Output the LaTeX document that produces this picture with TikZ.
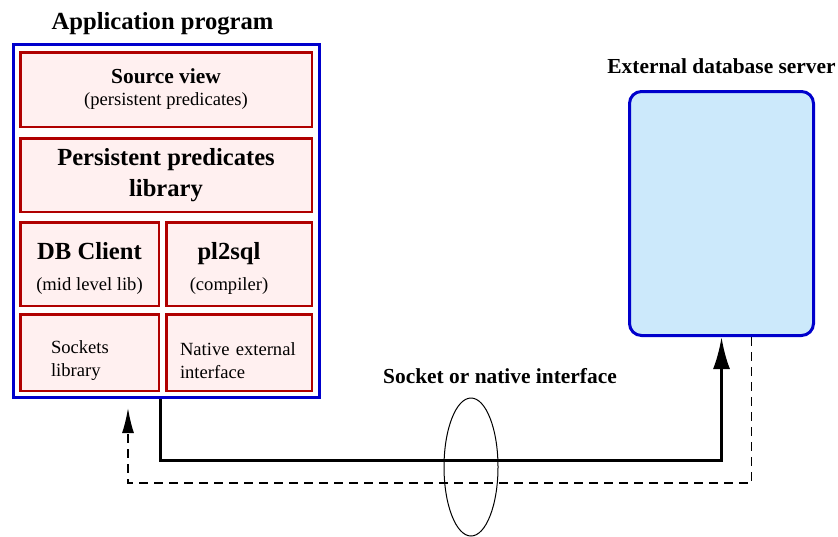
\documentclass[tikz,border=0pt]{standalone}
\usepackage{fontspec}
\setmainfont{Liberation Serif}
\usetikzlibrary{shapes.geometric}
\usetikzlibrary{arrows.meta}
\usetikzlibrary{positioning}

\definecolor{layerred}{RGB}{176,0,0}
\definecolor{layerfill}{RGB}{255,240,240}
\definecolor{hostblue}{RGB}{0,0,204}
\definecolor{serverfill}{RGB}{204,233,251}

\newcommand{\bigbf}{\fontsize{12.3}{14}\selectfont\bfseries}
\newcommand{\midbf}{\fontsize{10.7}{12.5}\selectfont\bfseries}
\newcommand{\smallrm}{\fontsize{9.3}{11}\selectfont}

\begin{document}
\begin{tikzpicture}[x=0.5pt,y=-0.5pt,
  layer/.style={draw=layerred,fill=layerfill,line width=1.25pt,inner sep=0pt,align=center,font=\smallrm},
  host/.style={draw=hostblue,line width=1.5pt,inner sep=0pt},
  link/.style={line width=1.5pt,-{Latex[length=16pt,width=8.5pt]}},
  back/.style={line width=0.75pt,dash pattern=on 4.5pt off 3pt,shorten >=4.5pt,-{Latex[length=12.5pt,width=6pt]}}]
\useasboundingbox (0,0) rectangle (838,536);
\node[host, minimum width=153pt, minimum height=176.5pt] (app) at (166.5,221) {};
\node[layer, minimum width=145.75pt, minimum height=37.25pt] (src) at (166,89.5) {{\midbf Source view}\\(persistent predicates)};
\node[layer, minimum width=145.75pt, minimum height=36.75pt] (lib) [below=4.5pt of src] {{\bigbf Persistent predicates}\\[3pt]{\bigbf library}};
\node[layer, minimum width=69.25pt, minimum height=41.75pt] (dbc) [below right=4pt and 0pt of lib.south west] {\rule{0pt}{13.4pt}{\bigbf DB Client}\\[4.5pt](mid level lib)};
\node[layer, minimum width=72.75pt, minimum height=41.75pt] (pl2sql) [right=2.5pt of dbc] {\rule{0pt}{13.4pt}{\bigbf pl2sql}\hspace*{10pt}\\[4.5pt](compiler)\hspace*{10pt}};
\node[layer, minimum width=69.25pt, minimum height=38.25pt, text width=38.5pt, align=left] (sock) [below=3pt of dbc] {\rule{0pt}{14.4pt}Sockets\\[0.5pt]library};
\node[layer, minimum width=72.75pt, minimum height=38.25pt, text width=59pt, align=left] (native) [right=2.5pt of sock] {\rule{0pt}{14.4pt}Native external\\[0.5pt]interface};
\node[font=\bigbf] (apptitle) [above=0.5pt of app, xshift=-2pt] {Application program};
\node[host, fill=serverfill, rounded corners=6pt, minimum width=92pt, minimum height=122pt] (server) at (721.5,213.5) {};
\node[font=\midbf] (srvtitle) [above=4.6pt of server] {External database server};
\node[font=\midbf, anchor=base] (iflabel) at (500,383) {Socket or native interface};
\node[draw, ellipse, line width=0.5pt, minimum width=27pt, minimum height=69pt, inner sep=0pt] (bundle) at (471,467) {};
\coordinate (ret) at (128,399);
\draw[link] (app.south -| dbc.east) -- ++(0,61) -| (server.south);
\draw[back] ([xshift=15pt]server.south) -- ++(0,146) -| (ret);
\end{tikzpicture}
\end{document}
